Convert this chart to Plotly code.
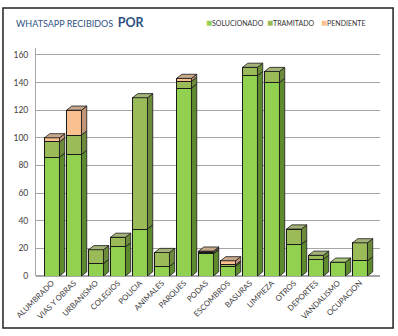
import plotly.graph_objects as go

categories = ["ALUMBRADO", "VIAS Y OBRAS", "URBANISMO", "COLEGIOS", "POLICIA", "ANIMALES",
              "PARQUES", "PODAS", "ESCOMBROS", "BASURAS", "LIMPIEZA", "OTROS", "DEPORTES",
              "VANDALISMO", "OCUPACION"]
solucionado = [86, 88, 9, 21, 34, 7, 136, 16, 7, 145, 140, 23, 12, 10, 11]
tramitado = [11, 14, 10, 7, 95, 10, 5, 1, 1, 6, 8, 11, 3, 0, 13]
pendiente = [3, 18, 0, 0, 0, 0, 2, 1, 3, 0, 0, 0, 0, 0, 0]
series_names = ["SOLUCIONADO", "TRAMITADO", "PENDIENTE"]
y_ticks = [0, 20, 40, 60, 80, 100, 120, 140, 160]

front_colors = ["#92D050", "#9BBB59", "#FAC090"]
side_colors = ["#5E8A2E", "#6B8A3A", "#C09474"]
top_colors = ["#A9C878", "#A3B377", "#C8A88A"]
legend_x = [0.488, 0.666, 0.823]

series = [solucionado, tramitado, pendiente]
xs = list(range(len(categories)))
W = 0.68   # front width (category units)
DX = 0.24  # depth in x
DY = 3.0   # depth in y (value units)

fig = go.Figure()

# front faces
for name, vals, col in zip(series_names, series, front_colors):
    fig.add_trace(go.Bar(x=xs, y=vals, name=name, width=W, showlegend=False,
                         marker=dict(color=col, line=dict(color="#1a1a1a", width=1))))

# side faces computed from data
bases = [0] * len(categories)
tops_total = [sum(v) for v in zip(*series)]
for si, (vals, sc) in enumerate(zip(series, side_colors)):
    px, py = [], []
    for i, v in enumerate(vals):
        if v <= 0:
            continue
        b = bases[i]
        t = b + v
        xr = i + W / 2
        px += [xr, xr + DX, xr + DX, xr, xr, None]
        py += [b, b + DY, t + DY, t, b, None]
    fig.add_trace(go.Scatter(x=px, y=py, mode="lines", fill="toself", fillcolor=sc,
                             line=dict(color="#1a1a1a", width=0.8), showlegend=False,
                             hoverinfo="skip"))
    bases = [bases[i] + vals[i] for i in range(len(vals))]

# top caps colored by top-most nonzero series
for si, tc in enumerate(top_colors):
    px, py = [], []
    for i in range(len(categories)):
        top_series = max(k for k in range(3) if series[k][i] > 0)
        if top_series != si:
            continue
        T = tops_total[i]
        xl = i - W / 2
        xr = i + W / 2
        px += [xl, xl + DX, xr + DX, xr, xl, None]
        py += [T, T + DY, T + DY, T, T, None]
    fig.add_trace(go.Scatter(x=px, y=py, mode="lines", fill="toself", fillcolor=tc,
                             line=dict(color="#1a1a1a", width=0.8), showlegend=False,
                             hoverinfo="skip"))

annotations = [
    dict(xref="paper", yref="paper", x=-0.064, y=1.112, xanchor="left", yanchor="middle",
         text="WHATSAPP RECIBIDOS  <b><span style='font-size:12.5px'>POR</span></b>",
         showarrow=False, font=dict(size=9, color="#2F5283", family="Lato")),
]
for name, col, lx in zip(series_names, front_colors, legend_x):
    annotations.append(dict(
        xref="paper", yref="paper", x=lx, y=1.112, xanchor="left", yanchor="middle",
        text="<span style='color:%s;font-size:10px'>■</span>%s" % (col, name), showarrow=False,
        font=dict(size=7, color="#333333", family="Lato")))

fig.update_layout(
    barmode="stack",
    width=398, height=336,
    margin=dict(l=36, r=18, t=48, b=60, autoexpand=False),
    paper_bgcolor="white", plot_bgcolor="white",
    font=dict(family="Lato", color="#404040"),
    showlegend=False,
    xaxis=dict(range=[-0.727, 14.91], tickmode="array", tickvals=xs, ticktext=categories,
               tickangle=-45, tickfont=dict(size=7.8, color="#404040"), showgrid=False,
               zeroline=False, showline=False, ticks=""),
    yaxis=dict(range=[0, 165], tickmode="array", tickvals=y_ticks,
               tickfont=dict(size=8.5, color="#404040"), showgrid=True, gridcolor="#A6A6A6",
               gridwidth=1, zeroline=True, zerolinecolor="#A6A6A6", showline=True,
               linecolor="#A6A6A6", ticklabelstandoff=5),
    annotations=annotations,
    shapes=[
        dict(type="rect", xref="paper", yref="paper", x0=-0.096, x1=1.038, y0=-0.228, y1=1.175,
             line=dict(color="#222222", width=1.5), fillcolor="rgba(0,0,0,0)", layer="below"),
    ],
)

fig.write_html("out.html")
